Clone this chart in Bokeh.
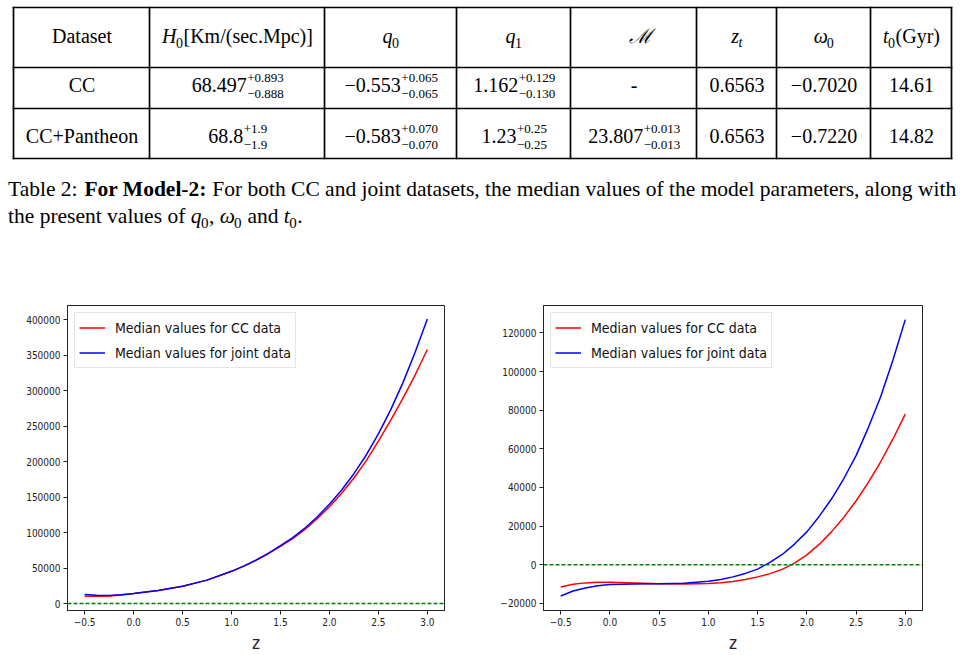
from bokeh.plotting import figure
from bokeh.models import Range1d, Span, FixedTicker
from bokeh.layouts import column, row
from bokeh.core.properties import value
from bokeh.embed import file_html
from bokeh.resources import INLINE

# ---------------- table data ----------------
datasets = ["CC", "CC+Pantheon"]
H0_med = ["68.497", "68.8"]
H0_up = ["+0.893", "+1.9"]
H0_lo = ["−0.888", "−1.9"]
q0_med = ["−0.553", "−0.583"]
q0_up = ["+0.065", "+0.070"]
q0_lo = ["−0.065", "−0.070"]
q1_med = ["1.162", "1.23"]
q1_up = ["+0.129", "+0.25"]
q1_lo = ["−0.130", "−0.25"]
M_med = ["-", "23.807"]
M_up = [None, "+0.013"]
M_lo = [None, "−0.013"]
zt_vals = ["0.6563", "0.6563"]
w0_vals = ["−0.7020", "−0.7220"]
t0_vals = ["14.61", "14.82"]

caption_label = "Table 2: "
caption_bold = "For Model-2:"
caption_rest = " For both CC and joint datasets, the median values of the model parameters, along with"

# ---------------- plot data ----------------
z = [-0.5, -0.375, -0.25, -0.125, 0.0, 0.25, 0.5, 0.75, 1.0, 1.125, 1.25, 1.375, 1.5,
     1.625, 1.75, 1.875, 2.0, 2.125, 2.25, 2.375, 2.5, 2.625, 2.75, 2.875, 3.0]
left_cc = [10300, 10200, 10800, 12100, 14000, 18500, 24300, 33000, 45400, 52700, 61000, 70200, 80500,
           91500, 104500, 119500, 136500, 155500, 177000, 201000, 229000, 258000, 289000, 322000, 358000]
left_joint = [12600, 11600, 11300, 12400, 14000, 18500, 24300, 33000, 45400, 52800, 61200, 70800, 81500,
              93000, 106500, 122000, 140000, 160000, 183000, 209000, 239000, 273000, 311000, 354000, 401000]
right_cc = [-11500, -10100, -9400, -9100, -9100, -9500, -9900, -10000, -9700, -9300, -8700, -7700, -6300,
            -4600, -2400, 800, 5100, 10500, 17000, 24500, 33000, 42600, 53300, 65100, 78000]
right_joint = [-16200, -13600, -12000, -10900, -10200, -10000, -9900, -9600, -8600, -7600, -6300, -4500, -2300,
               1200, 5300, 10700, 17000, 25000, 34000, 44500, 56500, 71000, 87000, 106000, 126900]
x_ticks = [-0.5, 0.0, 0.5, 1.0, 1.5, 2.0, 2.5, 3.0]
left_y_ticks = [0, 50000, 100000, 150000, 200000, 250000, 300000, 350000, 400000]
right_y_ticks = [-20000, 0, 20000, 40000, 60000, 80000, 100000, 120000]
leg_cc = "Median values for CC data"
leg_joint = "Median values for joint data"

# ---------------- text metrics (Times / Liberation Serif) ----------------
W_R = {' ': 250, '!': 333, '(': 333, ')': 333, '+': 564, ',': 250, '-': 333, '.': 250, '/': 278,
       ':': 278, '[': 333, ']': 333, '−': 564, 'ω': 686,
       'A': 722, 'B': 667, 'C': 667, 'D': 722, 'E': 611, 'F': 556, 'G': 722, 'H': 722, 'I': 333,
       'J': 389, 'K': 722, 'L': 611, 'M': 889, 'N': 722, 'O': 722, 'P': 556, 'Q': 722, 'R': 667,
       'S': 556, 'T': 611, 'U': 722, 'V': 722, 'W': 944, 'X': 722, 'Y': 722, 'Z': 611,
       'a': 444, 'b': 500, 'c': 444, 'd': 500, 'e': 444, 'f': 333, 'g': 500, 'h': 500, 'i': 278,
       'j': 278, 'k': 500, 'l': 278, 'm': 778, 'n': 500, 'o': 500, 'p': 500, 'q': 500, 'r': 333,
       's': 389, 't': 278, 'u': 500, 'v': 500, 'w': 722, 'x': 500, 'y': 500, 'z': 444}
for d in "0123456789":
    W_R[d] = 500
W_B = dict(W_R)
W_B.update({'F': 611, 'M': 944, 'r': 444, 'd': 556, ':': 333, 'o': 500, 'e': 444, 'l': 278})
W_I = dict(W_R)
W_I.update({'H': 722, 'q': 500, 'z': 389, 't': 278})

SERIF = "Liberation Serif"
SANS = "DejaVu Sans Condensed, DejaVu Sans"
BASE_K = 0.42  # renderer places alphabetic baseline this fraction of size lower


def tw(s, style, size):
    tbl = {"normal": W_R, "bold": W_B, "italic": W_I}[style]
    return sum(tbl.get(c, 500) for c in s) * size / 1000.0


def put(p, x, y, s, size, style="normal", align="left"):
    lead = len(s) - len(s.lstrip(" "))
    if lead:
        x += tw(" " * lead, style, size)
        s = s.lstrip(" ")
    s = s.rstrip(" ")
    if not s:
        return
    p.text(x=[x], y=[y - BASE_K * size], text=[s], text_font=value(SERIF),
           text_font_size=value(f"{size}px"), text_font_style=value(style), text_align=align,
           text_baseline="alphabetic", text_color="#000000")


def draw_runs(p, x, y, items, size, align="center"):
    sub_size = size * 0.7
    ss = 13
    widths = []
    for it in items:
        if it[0] == "t":
            widths.append(tw(it[1], it[2], size))
        elif it[0] == "sub":
            widths.append(tw(it[1], it[2], sub_size))
        else:
            widths.append(max(tw(it[1], "normal", ss), tw(it[2], "normal", ss)))
    total = sum(widths)
    cx = x - total / 2.0 if align == "center" else x
    for it, w in zip(items, widths):
        if it[0] == "t":
            put(p, cx + 0.5, y, it[1], size, it[2])
        elif it[0] == "sub":
            put(p, cx, y + 4, it[1], sub_size, it[2])
        else:
            put(p, cx + 1, y - 10, it[1], ss)
            put(p, cx + 1, y + 6, it[2], ss)
        cx += w


# ---------------- table figure ----------------
TW, TH = 965, 290
pt = figure(width=TW, height=TH, x_range=Range1d(0, TW), y_range=Range1d(TH, 0),
            output_backend="svg", toolbar_location=None, min_border=0)
pt.axis.visible = False
pt.grid.visible = False
pt.outline_line_color = None

col_edges = [13, 149, 324, 456, 570, 696, 776, 870, 951]
row_edges = [7, 67, 108, 158]
pt.segment(x0=col_edges, y0=[row_edges[0]] * len(col_edges), x1=col_edges,
           y1=[row_edges[-1]] * len(col_edges), line_color="black", line_width=1.7, line_cap="square")
pt.segment(x0=[col_edges[0]] * len(row_edges), y0=row_edges, x1=[col_edges[-1]] * len(row_edges),
           y1=row_edges, line_color="black", line_width=1.7, line_cap="square")

centers = [(col_edges[i] + col_edges[i + 1]) / 2.0 for i in range(len(col_edges) - 1)]
FS = 20
header_items = [
    [("t", "Dataset", "normal")],
    [("t", "H", "italic"), ("sub", "0", "normal"), ("t", "[Km/(sec.Mpc)]", "normal")],
    [("t", "q", "italic"), ("sub", "0", "normal")],
    [("t", "q", "italic"), ("sub", "1", "normal")],
    [("t", "ℳ", "italic")],
    [("t", "z", "italic"), ("sub", "t", "italic")],
    [("t", "ω", "italic"), ("sub", "0", "normal")],
    [("t", "t", "italic"), ("sub", "0", "normal"), ("t", "(Gyr)", "normal")],
]
header_base = 44
for cx, items in zip(centers, header_items):
    draw_runs(pt, cx, header_base, items, FS)

row_bases = [93, 143.5]
for r in range(2):
    yb = row_bases[r]
    cells = [
        [("t", datasets[r], "normal")],
        [("t", H0_med[r], "normal"), ("pm", H0_up[r], H0_lo[r])],
        [("t", q0_med[r], "normal"), ("pm", q0_up[r], q0_lo[r])],
        [("t", q1_med[r], "normal"), ("pm", q1_up[r], q1_lo[r])],
        [("t", M_med[r], "normal")] + ([("pm", M_up[r], M_lo[r])] if M_up[r] else []),
        [("t", zt_vals[r], "normal")],
        [("t", w0_vals[r], "normal")],
        [("t", t0_vals[r], "normal")],
    ]
    for cx, items in zip(centers, cells):
        draw_runs(pt, cx, yb, items, FS)

# caption
CFS = 21.5
cap1 = [("t", caption_label, "normal"), ("t", caption_bold, "bold"), ("t", caption_rest, "normal")]
draw_runs(pt, 7, 198, cap1, CFS, align="left")
cap2 = [("t", "the present values of ", "normal"), ("t", "q", "italic"), ("sub", "0", "normal"),
        ("t", ", ", "normal"), ("t", "ω", "italic"), ("sub", "0", "normal"), ("t", " and ", "normal"),
        ("t", "t", "italic"), ("sub", "0", "normal"), ("t", ".", "normal")]
draw_runs(pt, 7, 225, cap2, CFS, align="left")


# ---------------- plots ----------------
def fmt_num(v):
    if isinstance(v, float):
        s = f"{v:.1f}"
    else:
        s = f"{v:d}"
    return s.replace("-", "−")


def make_plot(width, bl, br, ylo, yhi, yticks, cc, joint):
    p = figure(width=width, height=365, x_range=Range1d(-0.675, 3.175), y_range=Range1d(ylo, yhi),
               output_backend="svg", toolbar_location=None,
               min_border_left=bl, min_border_right=br, min_border_top=15, min_border_bottom=44)
    p.grid.visible = False
    p.outline_line_color = "#222222"
    p.outline_line_width = 1
    p.outline_line_alpha = 1.0
    p.line(z, cc, line_color="#ff0000", line_width=1.5, legend_label=leg_cc)
    p.line(z, joint, line_color="#0000ff", line_width=1.5, legend_label=leg_joint)
    p.add_layout(Span(location=0, dimension="width", line_color="#008000", line_dash="4 2",
                      line_width=1.5))
    p.xaxis.ticker = FixedTicker(ticks=x_ticks)
    p.xaxis.major_label_overrides = {t: fmt_num(t) for t in x_ticks}
    p.yaxis.ticker = FixedTicker(ticks=yticks)
    p.yaxis.major_label_overrides = {t: fmt_num(t) for t in yticks}
    for ax in (p.xaxis[0], p.yaxis[0]):
        ax.axis_line_color = "#222222"
        ax.major_tick_line_color = "#222222"
        ax.minor_tick_line_color = None
        ax.major_tick_out = 4
        ax.major_tick_in = 0
        ax.major_label_text_font = SANS
        ax.major_label_text_font_size = "10px"
        ax.major_label_text_color = "#222222"
        ax.major_label_standoff = 3
    p.xaxis.axis_label = "z"
    p.xaxis.axis_label_text_font = SANS
    p.xaxis.axis_label_text_font_size = "17px"
    p.xaxis.axis_label_text_font_style = "normal"
    p.xaxis.axis_label_text_color = "#222222"
    p.xaxis.axis_label_standoff = 4
    lg = p.legend[0]
    lg.location = "top_left"
    lg.margin = 7
    lg.padding = 4
    lg.spacing = 4
    lg.glyph_width = 26
    lg.glyph_height = 21
    lg.label_height = 21
    lg.label_standoff = 10
    lg.label_text_font = SANS
    lg.label_text_font_size = "14px"
    lg.label_text_color = "#111111"
    lg.border_line_color = "#cccccc"
    lg.border_line_width = 1
    lg.background_fill_alpha = 0.8
    return p


p1 = make_plot(480, 67, 36, -9800, 420000, left_y_ticks, left_cc, left_joint)
p2 = make_plot(485, 63, 43, -23700, 134200, right_y_ticks, right_cc, right_joint)

layout = column(pt, row(p1, p2, spacing=0), spacing=0)
open("out.html", "w").write(file_html(layout, INLINE))
